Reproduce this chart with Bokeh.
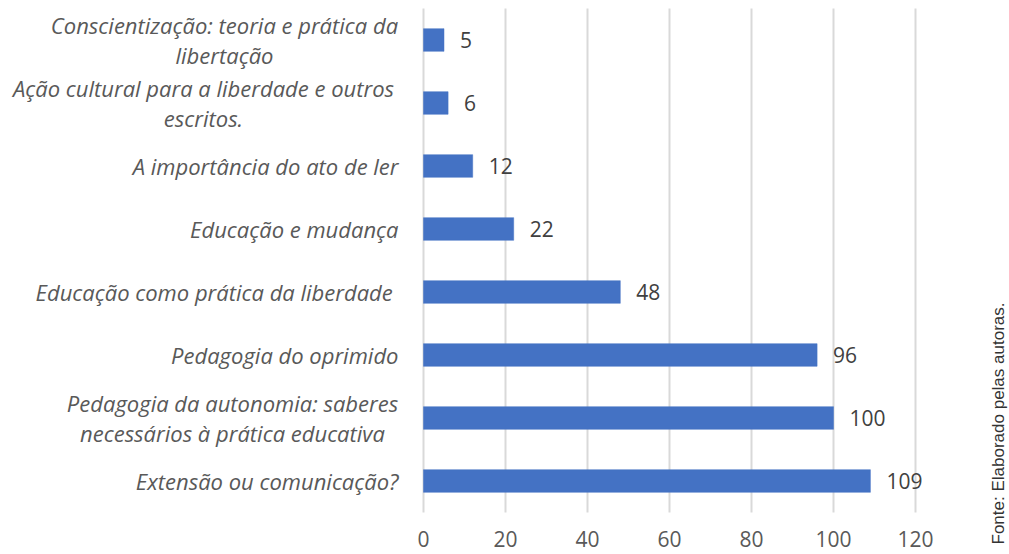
from bokeh.plotting import figure
from bokeh.models import Range1d, Label, ColumnDataSource
from bokeh.core.properties import value
from bokeh.embed import file_html
from bokeh.resources import INLINE
import math

# Data (top to bottom as shown)
categories = [
    "Conscientização: teoria e prática da\nlibertação",
    "Ação cultural para a liberdade e outros\nescritos.",
    "A importância do ato de ler",
    "Educação e mudança",
    "Educação como prática da liberdade ",
    "Pedagogia do oprimido",
    "Pedagogia da autonomia: saberes\nnecessários à prática educativa",
    "Extensão ou comunicação?",
]
values = [5, 6, 12, 22, 48, 96, 100, 109]
x_ticks = [0, 20, 40, 60, 80, 100, 120]
x_tick_labels = ["0", "20", "40", "60", "80", "100", "120"]
source_note = "Fonte: Elaborado pelas autoras."

n = len(categories)
ypos = [n - 1 - i for i in range(n)]

W, H = 1009, 554
PX_X = 4.1      # pixels per value unit
BAND = 63.0     # pixels per category
X0_PX = 423     # pixel of value 0
TOP_PX = 8.0    # pixel of top band edge

x_start = -X0_PX / PX_X
x_end = (W - X0_PX) / PX_X
y_top = (n - 0.5) + TOP_PX / BAND
y_bot = y_top - H / BAND

p = figure(width=W, height=H, output_backend="svg", toolbar_location=None,
           x_range=Range1d(x_start, x_end), y_range=Range1d(y_bot, y_top),
           min_border=0)
p.outline_line_color = None
p.background_fill_color = "white"
p.border_fill_color = "white"
p.xaxis.visible = False
p.yaxis.visible = False
p.xgrid.visible = False
p.ygrid.visible = False

FONT = value("Open Sans")

# vertical grid lines
p.segment(x0=x_ticks, x1=x_ticks, y0=[-0.5] * len(x_ticks), y1=[n - 0.5] * len(x_ticks),
          line_color="#d9d9d9", line_width=2)

# x tick labels
p.text(x=x_ticks, y=[-0.5] * len(x_ticks), text=x_tick_labels, y_offset=26,
       text_align="center", text_baseline="middle", text_font=FONT,
       text_font_size="21px", text_color="#595959")

src = ColumnDataSource(dict(y=ypos, v=values, lbl=[str(v) for v in values]))
p.hbar(y="y", right="v", left=0, height=0.36, source=src,
       fill_color="#4472C4", line_color="#4472C4", line_width=0.5)

# value labels
p.text(x="v", y="y", text="lbl", source=src, x_offset=16,
       text_align="left", text_baseline="middle", text_font=FONT,
       text_font_size="21px", text_color="#404040")

# category labels
centers = {0: -199, 1: -220, 6: -191}
single = dict(x=[], y=[], t=[])
multi = dict(x=[], y=[], t=[], off=[])
for i, (cat, y) in enumerate(zip(categories, ypos)):
    if i in centers:
        multi["x"].append(0); multi["y"].append(y); multi["t"].append(cat)
        multi["off"].append(centers[i])
    else:
        single["x"].append(0); single["y"].append(y); single["t"].append(cat)

p.text(x="x", y="y", text="t", source=ColumnDataSource(single), x_offset=-25,
       text_align="right", text_baseline="middle", text_font=FONT,
       text_font_style="italic", text_font_size="22px", text_color="#595959")
p.text(x="x", y="y", text="t", source=ColumnDataSource(multi), x_offset="off",
       text_align="center", text_baseline="middle", text_font=FONT,
       text_font_style="italic", text_font_size="22px", text_color="#595959",
       text_line_height=1.0)

# rotated source note
p.add_layout(Label(x=998, y=H - 423, x_units="screen", y_units="screen",
                   text=source_note, angle=math.pi / 2, text_align="center",
                   text_baseline="middle", text_font="Liberation Sans",
                   text_font_size="17px", text_color="#333333"))

open("out.html", "w").write(file_html(p, INLINE))
